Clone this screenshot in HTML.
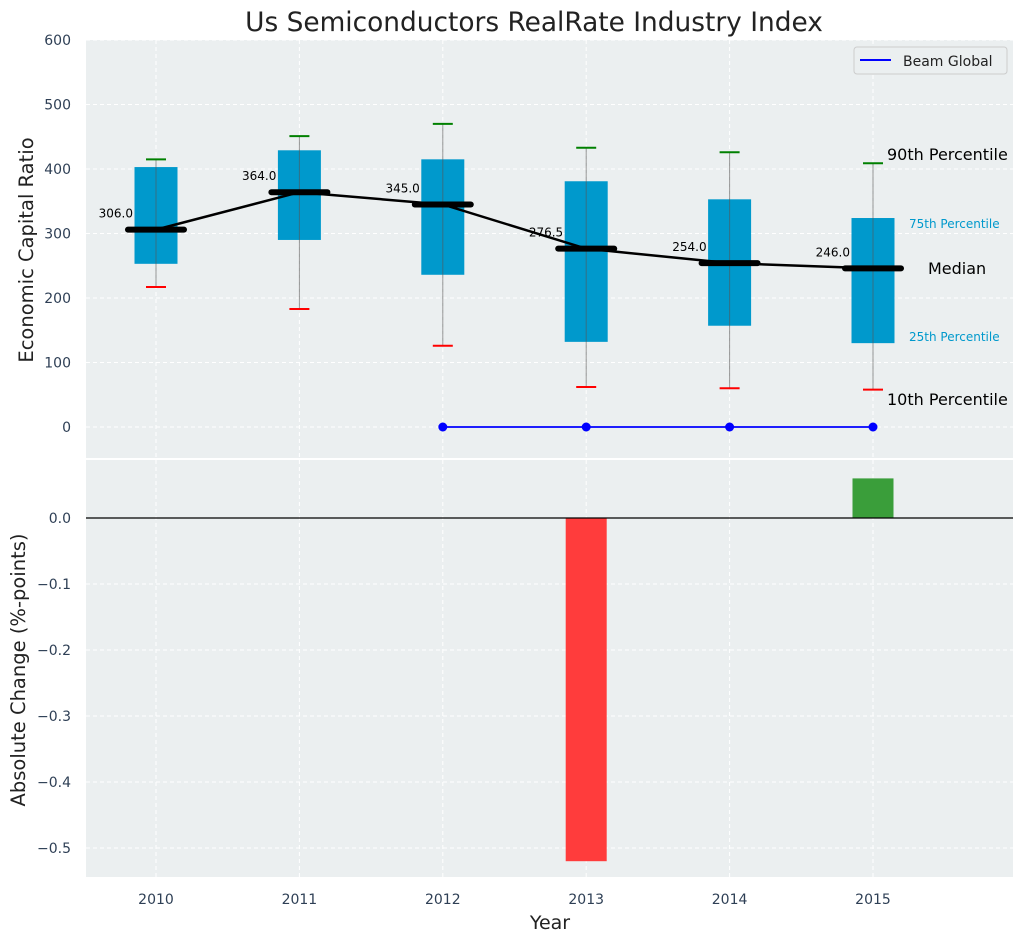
<!DOCTYPE html>
<html><head><meta charset="utf-8"><style>
body{margin:0;background:#fff;font-family:"DejaVu Sans","Liberation Sans",sans-serif;}
svg{display:block}
</style></head><body>
<svg id="c" width="1024" height="942" xmlns="http://www.w3.org/2000/svg">
<text x="534" y="31" text-anchor="middle" font-size="26.4" fill="#222">Us Semiconductors RealRate Industry Index</text>
<g id="topg"></g><g id="botg"></g>
</svg>
<script>
const years=[2010,2011,2012,2013,2014,2015];
const q1=[253,290,236,132,157,130];
const q3=[403,429,415,381,353,324];
const p10=[217,183,126,62,60,58];
const p90=[415,451,470,433,426,409];
const medians=[306,364,345,276.5,254,246];
const beamYears=[2012,2013,2014,2015];
const beamValues=[0,0,0,0];
const changeYears=[2013,2015];
const changeValues=[-0.52,0.06];
const yTicksTop=[0,100,200,300,400,500,600];
const yTicksBot=[0.0,-0.1,-0.2,-0.3,-0.4,-0.5];

const NS="http://www.w3.org/2000/svg";
const L=86,R=1013;
const x=v=>156+(v-2010)*143.4;
const yT=v=>427-v*0.645;
const yB=v=>518-v*660;
function mk(p,t,a,name){const e=document.createElementNS(NS,t);for(const k in a)e.setAttribute(k,a[k]);


p.appendChild(e);return e;}
const gTop=document.getElementById('topg'),gBot=document.getElementById('botg');
mk(gTop,'rect',{x:L,y:40,width:R-L,height:418,fill:'#ebeff0'},'top-plot-area');
mk(gBot,'rect',{x:L,y:460,width:R-L,height:417,fill:'#ebeff0'},'bottom-plot-area');
years.forEach(v=>{
 mk(gTop,'line',{x1:x(v),x2:x(v),y1:40,y2:458,stroke:'#fff','stroke-dasharray':'4,3'},'top-x-grid');
 mk(gBot,'line',{x1:x(v),x2:x(v),y1:460,y2:877,stroke:'#fff','stroke-dasharray':'4,3'},'bottom-x-grid');
 const t=mk(gBot,'text',{x:x(v),y:904,'text-anchor':'middle','font-size':14,fill:'#2e3f55'},'x-tick-label');t.textContent=v;
});
yTicksTop.forEach(v=>{
 mk(gTop,'line',{x1:L,x2:R,y1:yT(v),y2:yT(v),stroke:'#fff','stroke-dasharray':'4,3'},'top-y-grid');
 const t=mk(gTop,'text',{x:71,y:yT(v)+5,'text-anchor':'end','font-size':14,fill:'#2e3f55'},'top-y-tick-label');t.textContent=v;
});
yTicksBot.forEach(v=>{
 mk(gBot,'line',{x1:L,x2:R,y1:yB(v),y2:yB(v),stroke:'#fff','stroke-dasharray':'4,3'},'bottom-y-grid');
 const t=mk(gBot,'text',{x:71,y:yB(v)+5,'text-anchor':'end','font-size':14,fill:'#2e3f55'},'bottom-y-tick-label');t.textContent=(v<0?'\u2212':'')+Math.abs(v).toFixed(1);
});
years.forEach((v,i)=>{
 mk(gTop,'rect',{x:x(v)-21.5,y:yT(q3[i]),width:43,height:yT(q1[i])-yT(q3[i]),fill:'#0099cc'},'box');
 mk(gTop,'line',{x1:x(v),x2:x(v),y1:yT(p10[i]),y2:yT(p90[i]),stroke:'#555','stroke-width':1,'stroke-opacity':0.6},'whisker');
 mk(gTop,'line',{x1:x(v)-10,x2:x(v)+10,y1:yT(p90[i]),y2:yT(p90[i]),stroke:'green','stroke-width':2},'p90-cap');
 mk(gTop,'line',{x1:x(v)-10,x2:x(v)+10,y1:yT(p10[i]),y2:yT(p10[i]),stroke:'red','stroke-width':2},'p10-cap');
});
mk(gTop,'polyline',{points:years.map((v,i)=>x(v)+','+yT(medians[i])).join(' '),fill:'none',stroke:'#000','stroke-width':2.5},'median-line');
years.forEach((v,i)=>{
 mk(gTop,'line',{x1:x(v)-28,x2:x(v)+28,y1:yT(medians[i]),y2:yT(medians[i]),stroke:'#000','stroke-width':6,'stroke-linecap':'round'},'median-marker');
 const t=mk(gTop,'text',{x:x(v)-23,y:yT(medians[i])-12,'text-anchor':'end','font-size':12,fill:'#000'},'median-label');t.textContent=medians[i].toFixed(1);
});
mk(gTop,'polyline',{points:beamYears.map((v,i)=>x(v)+','+yT(beamValues[i])).join(' '),fill:'none',stroke:'blue','stroke-width':1.8},'beam-global-line');
beamYears.forEach((v,i)=>mk(gTop,'circle',{cx:x(v),cy:yT(beamValues[i]),r:4.5,fill:'blue'},'beam-global-point'));
[['90th Percentile',887,160,16,'#000'],['75th Percentile',909,228,12,'#0099cc'],['Median',928,274,16,'#000'],['25th Percentile',909,341,12,'#0099cc'],['10th Percentile',887,405,16,'#000']].forEach(a=>{
 const t=mk(gTop,'text',{x:a[1],y:a[2],'font-size':a[3],fill:a[4]},'percentile-annotation');t.textContent=a[0];
});
mk(gTop,'rect',{x:854,y:47,width:153,height:27,rx:3,fill:'#ebeff0',stroke:'#ccc'},'legend');
mk(gTop,'line',{x1:860,x2:891,y1:60,y2:60,stroke:'blue','stroke-width':2},'legend-swatch');
const lt=mk(gTop,'text',{x:903,y:66,'font-size':14,fill:'#222'},'legend-label');lt.textContent='Beam Global';
changeYears.forEach((v,i)=>{
 const y0=yB(0),y1=yB(changeValues[i]);
 mk(gBot,'rect',{x:x(v)-20.5,y:Math.min(y0,y1),width:41,height:Math.abs(y1-y0),fill:changeValues[i]<0?'#ff3c3c':'#3a9e3a'},'change-bar');
});
mk(gBot,'line',{x1:L,x2:R,y1:yB(0),y2:yB(0),stroke:'#000','stroke-width':1.2},'zero-line');
let t=mk(gTop,'text',{x:0,y:0,'font-size':19.5,fill:'#222','text-anchor':'middle',transform:'translate(33,250) rotate(-90)'},'top-y-axis-title');t.textContent='Economic Capital Ratio';
t=mk(gBot,'text',{x:0,y:0,'font-size':19.5,fill:'#222','text-anchor':'middle',transform:'translate(25,670) rotate(-90)'},'bottom-y-axis-title');t.textContent='Absolute Change (%-points)';
t=mk(gBot,'text',{x:550,y:929,'font-size':19,fill:'#222','text-anchor':'middle'},'x-axis-title');t.textContent='Year';
</script>
</body></html>
